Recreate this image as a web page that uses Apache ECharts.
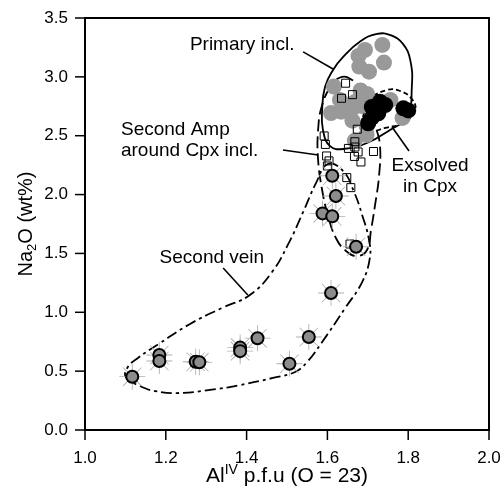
<!DOCTYPE html>
<html><head><meta charset="utf-8">
<script src="https://cdn.jsdelivr.net/npm/echarts@6/dist/echarts.min.js"></script>
<style>html,body{margin:0;padding:0;background:#fff}#c{width:501px;height:497px}</style>
</head><body><div id="c"></div>
<script>
// ---- data (x = Al IV p.f.u, y = Na2O wt%) ----
const primaryIncl = [[1.736,3.271],[1.693,3.229],[1.677,3.178],[1.740,3.121],[1.679,3.087],[1.703,3.044],[1.616,2.918],[1.682,2.884],[1.698,2.855],[1.631,2.804],[1.668,2.787],[1.609,2.693],[1.634,2.704],[1.664,2.738],[1.685,2.753],[1.652,2.747],[1.662,2.628],[1.697,2.583],[1.697,2.506],[1.668,2.458],[1.756,2.804],[1.718,2.776],[1.786,2.651]];
const exsolvedCpx = [[1.730,2.789],[1.710,2.744],[1.726,2.691],[1.710,2.653],[1.701,2.606],[1.743,2.761],[1.788,2.733],[1.800,2.715]];
const secondAmpSquares = [[1.645,2.946],[1.635,2.818],[1.662,2.849],[1.674,2.555],[1.592,2.498],[1.595,2.426],[1.668,2.449],[1.652,2.392],[1.668,2.404],[1.676,2.362],[1.667,2.324],[1.683,2.277],[1.714,2.366],[1.598,2.328],[1.604,2.286],[1.600,2.243],[1.648,2.144],[1.658,2.059],[1.656,1.580]];
const secondAmpPoints = [[1.612,2.16],[1.621,1.988],[1.588,1.84],[1.612,1.815],[1.671,1.557]];
const secondVeinPoints = [[1.117,0.453],[1.184,0.637],[1.184,0.586],[1.274,0.58],[1.283,0.575],[1.384,0.70],[1.384,0.67],[1.427,0.78],[1.506,0.563],[1.554,0.79],[1.609,1.164]];

// field outlines (data units)
const primaryOutline = [[1.587,2.719],[1.594,2.914],[1.614,3.059],[1.639,3.169],[1.681,3.300],[1.723,3.365],[1.758,3.352],[1.787,3.280],[1.805,3.144],[1.809,2.914],[1.797,2.659],[1.755,2.549],[1.698,2.438],[1.639,2.387],[1.606,2.413],[1.589,2.549]];
const exsolvedOutline = [[1.688,2.659],[1.705,2.804],[1.748,2.889],[1.780,2.880],[1.809,2.812],[1.817,2.719],[1.792,2.617],[1.743,2.566],[1.705,2.540],[1.686,2.583]];
const secondAmpOutline = [[1.636,2.999],[1.661,2.974],[1.686,2.889],[1.703,2.761],[1.718,2.591],[1.730,2.421],[1.728,2.166],[1.718,1.912],[1.708,1.699],[1.698,1.529],[1.673,1.478],[1.646,1.521],[1.621,1.631],[1.601,1.827],[1.587,2.039],[1.577,2.294],[1.577,2.549],[1.587,2.761],[1.611,2.931]];
const secondVeinOutline = [[1.601,2.260],[1.639,2.200],[1.666,2.022],[1.686,1.827],[1.703,1.614],[1.705,1.461],[1.686,1.257],[1.644,1.036],[1.587,0.748],[1.550,0.578],[1.520,0.493],[1.465,0.442],[1.384,0.382],[1.309,0.340],[1.228,0.314],[1.173,0.331],[1.136,0.374],[1.101,0.450],[1.106,0.535],[1.131,0.612],[1.186,0.739],[1.260,0.901],[1.339,1.037],[1.408,1.147],[1.463,1.342],[1.502,1.572],[1.540,1.852],[1.572,2.099]];

// labels and leader lines
const labelTexts = ['Primary incl.', 'Second Amp\naround Cpx incl.', 'Second vein', 'Exsolved\nin Cpx'];
const labelPos = [[1.389,3.271],[1.089,2.459],[1.314,1.461],[1.854,2.158]];
const labelAlign = ['center','left','center','center'];
const leaderLines = [[[1.540,3.212],[1.614,3.067]],[[1.490,2.379],[1.577,2.336]],[[1.342,1.376],[1.403,1.147]],[[1.760,2.574],[1.802,2.370]]];

// axes / ticks
const xTicks = {min:1.0, max:2.0, step:0.2};
const yTicks = {min:0.0, max:3.5, step:0.5};
const xTickValues = [1.0, 1.2, 1.4, 1.6, 1.8, 2.0];
const yTickValues = [0.0, 0.5, 1.0, 1.5, 2.0, 2.5, 3.0, 3.5];

const FONT = "'Liberation Sans', Arial, sans-serif";
const starPath = 'path://M0,11.6H24V12.4H0Z M11.6,0H12.4V24H11.6Z M3.22,3.78L3.78,3.22L20.78,20.22L20.22,20.78Z M20.22,3.22L20.78,3.78L3.78,20.78L3.22,20.22Z';

function outlineSeries(pts, dash){
  return {
    type:'custom', coordinateSystem:'cartesian2d', silent:true, z:2,
    data:[pts[0]],
    renderItem:function(params, api){
      const p = pts.map(d => api.coord(d));
      return {type:'polygon', shape:{points:p, smooth:0.45},
        style:{fill:'none', stroke:'#000', lineWidth:1.8, lineDash:dash}};
    }
  };
}

const chart = echarts.init(document.getElementById('c'), null, {renderer:'canvas'});
const series = [
  outlineSeries(primaryOutline, null),
  outlineSeries(exsolvedOutline, [5,3]),
  outlineSeries(secondAmpOutline, [12,5]),
  outlineSeries(secondVeinOutline, [11,4,3,4]),
];
leaderLines.forEach(l => series.push({type:'line', data:l, symbol:'none', silent:true, z:2,
  lineStyle:{color:'#000', width:1.6}}));
series.push(
  {type:'scatter', data:primaryIncl, symbol:'circle', symbolSize:16, z:3, itemStyle:{color:'#999999', opacity:1}},
  {type:'scatter', data:exsolvedCpx, symbol:'circle', symbolSize:16, z:3, itemStyle:{color:'#000000', opacity:1}},
  {type:'scatter', data:secondAmpSquares, symbol:'rect', symbolSize:8, z:4, itemStyle:{color:'rgba(0,0,0,0)', borderColor:'#000', borderWidth:1, opacity:1}},
  {type:'scatter', data:secondAmpPoints.concat(secondVeinPoints), symbol:starPath, symbolSize:26, z:4, itemStyle:{color:'#b0b0b0', opacity:1}},
  {type:'scatter', data:secondAmpPoints.concat(secondVeinPoints), symbol:'circle', symbolSize:12, z:5, itemStyle:{color:'#8c8c8c', borderColor:'#000', borderWidth:2, opacity:1}},
  {type:'custom', coordinateSystem:'cartesian2d', silent:true, z:6,
    data:labelPos,
    renderItem:function(params, api){
      const i = params.dataIndex;
      const p = api.coord(labelPos[i]);
      return {type:'text', x:p[0], y:p[1], style:{text:labelTexts[i], fill:'#000',
        font:"19px " + FONT, align:labelAlign[i], verticalAlign:'middle', lineHeight:21}};
    }},
  // frame (top / right) as filled bars, positioned through the scales
  {type:'custom', coordinateSystem:'cartesian2d', silent:true, clip:false, z:7,
    data:[[xTicks.min, yTicks.min]],
    renderItem:function(params, api){
      const a = api.coord([xTicks.min, yTicks.min]), b = api.coord([xTicks.max, yTicks.max]);
      return {type:'group', children:[
        {type:'rect', shape:{x:a[0]-1, y:b[1]-1, width:b[0]-a[0]+2, height:2}, style:{fill:'#000'}},
        {type:'rect', shape:{x:b[0]-1, y:b[1]-1, width:2, height:a[1]-b[1]+2}, style:{fill:'#000'}},
        {type:'rect', shape:{x:a[0]-1, y:a[1]-1, width:b[0]-a[0]+2, height:2}, style:{fill:'#000'}},
        {type:'rect', shape:{x:a[0]-1, y:b[1]-1, width:2, height:a[1]-b[1]+2}, style:{fill:'#000'}}
      ]};
    }},
  // outward tick marks as thin filled bars
  {type:'custom', coordinateSystem:'cartesian2d', silent:true, clip:false, z:7,
    data:xTickValues.map(v => [v, yTicks.min]),
    renderItem:function(params, api){
      const p = api.coord([api.value(0), yTicks.min]);
      return {type:'rect', shape:{x:p[0]-0.75, y:p[1], width:1.5, height:10}, style:{fill:'#000'}};
    }},
  {type:'custom', coordinateSystem:'cartesian2d', silent:true, clip:false, z:7,
    data:yTickValues.map(v => [xTicks.min, v]),
    renderItem:function(params, api){
      const p = api.coord([xTicks.min, api.value(1)]);
      return {type:'rect', shape:{x:p[0]-10, y:p[1]-0.75, width:10, height:1.5}, style:{fill:'#000'}};
    }}
);

chart.setOption({
  animation:false,
  backgroundColor:'#fff',
  grid:{left:85, right:12, top:18, bottom:67, show:false, containLabel:false, outerBoundsMode:'none'},
  xAxis:{type:'value', min:xTicks.min, max:xTicks.max, interval:xTicks.step, position:'bottom',
    axisLine:{show:true, onZero:false, lineStyle:{color:'#000', width:2}},
    axisTick:{show:false},
    splitLine:{show:false},
    axisLabel:{show:true, color:'#000', fontSize:17, fontFamily:FONT, margin:20, formatter:v=>v.toFixed(1)},
    name:'Al{sup|IV} p.f.u (O = 23)', nameLocation:'middle', nameGap:33, nameMoveOverlap:false,
    nameTextStyle:{color:'#000', fontSize:21, fontFamily:FONT, lineHeight:26,
      rich:{sup:{fontSize:14, lineHeight:14, verticalAlign:'top', fontFamily:FONT, color:'#000'}}}
  },
  yAxis:{type:'value', min:yTicks.min, max:yTicks.max, interval:yTicks.step, position:'left',
    axisLine:{show:true, onZero:false, lineStyle:{color:'#000', width:2}},
    axisTick:{show:false},
    splitLine:{show:false},
    axisLabel:{show:true, color:'#000', fontSize:17, fontFamily:FONT, margin:17, formatter:v=>v.toFixed(1)},
    name:'Na{sub|2}O (wt%)', nameLocation:'middle', nameGap:46, nameRotate:90, nameMoveOverlap:false,
    nameTextStyle:{color:'#000', fontSize:20, fontFamily:FONT, lineHeight:26,
      rich:{sub:{fontSize:13, lineHeight:14, verticalAlign:'bottom', fontFamily:FONT, color:'#000'}}}
  },
  series:series
});
</script></body></html>
